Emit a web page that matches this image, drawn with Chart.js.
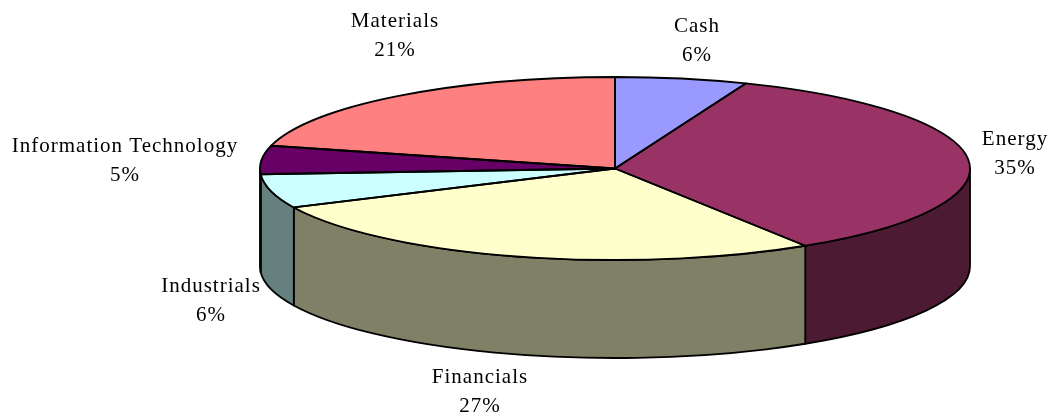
<!DOCTYPE html>
<html>
<head>
<meta charset="utf-8">
<script src="https://cdn.jsdelivr.net/npm/chart.js@4/dist/chart.umd.min.js"></script>
<style>
  body { margin: 0; background: #fff; }
  #wrap { width: 1050px; height: 417px; }
</style>
</head>
<body>
<div id="wrap"><canvas id="myChart" width="1050" height="417"></canvas></div>
<script>
// sectors, clockwise from 12 o'clock
const sectors = ['Cash', 'Energy', 'Financials', 'Industrials', 'Information Technology', 'Materials'];
const shares = [6, 35, 27, 6, 5, 21];
const topColors = ['#9999FF', '#993366', '#FFFFCC', '#CCFFFF', '#660066', '#FF8080'];
const sideColors = ['#4D4D80', '#4D1A33', '#808066', '#668080', '#330033', '#804040'];

// where each label's first line sits (center x, baseline y)
const labelSpots = [[697, 32], [1015, 145], [480, 383], [211, 292], [125, 152], [395, 27]];

function ellipseOf(chart, depth) {
    const a = chart.chartArea;
    const rx = (a.right - a.left) / 2;
    const ry = (a.bottom - a.top - depth) / 2;
    return { cx: a.left + rx, cy: a.top + ry, rx: rx, ry: ry };
}

const pie3d = {
    id: 'pie3d',
    beforeDatasetsDraw(chart, args, opts) {
        const ctx = chart.ctx;
        const e = ellipseOf(chart, opts.depth);
        const arcs = chart.getDatasetMeta(0).data;
        ctx.save();
        ctx.lineWidth = 1.8;
        ctx.lineJoin = 'round';
        ctx.strokeStyle = '#000';
        // side walls, only the front half is visible
        arcs.forEach((el, i) => {
            const s = Math.max(el.startAngle, 0);
            const t = Math.min(el.endAngle, Math.PI);
            if (t <= s) return;
            ctx.beginPath();
            ctx.ellipse(e.cx, e.cy, e.rx, e.ry, 0, s, t);
            ctx.lineTo(e.cx + e.rx * Math.cos(t), e.cy + opts.depth + e.ry * Math.sin(t));
            ctx.ellipse(e.cx, e.cy + opts.depth, e.rx, e.ry, 0, t, s, true);
            ctx.closePath();
            ctx.fillStyle = sideColors[i];
            ctx.fill();
            ctx.stroke();
        });
        ctx.restore();

        // squash the library's round pie onto the top ellipse
        const el = arcs[0];
        ctx.save();
        ctx.translate(e.cx, e.cy);
        ctx.scale(e.rx / el.outerRadius, e.ry / el.outerRadius);
        ctx.translate(-el.x, -el.y);
    },
    afterDatasetsDraw(chart, args, opts) {
        const ctx = chart.ctx;
        ctx.restore();
        const e = ellipseOf(chart, opts.depth);
        ctx.save();
        ctx.lineWidth = 1.8;
        ctx.lineJoin = 'round';
        ctx.strokeStyle = '#000';
        chart.getDatasetMeta(0).data.forEach((el) => {
            ctx.beginPath();
            ctx.moveTo(e.cx, e.cy);
            ctx.ellipse(e.cx, e.cy, e.rx, e.ry, 0, el.startAngle, el.endAngle);
            ctx.closePath();
            ctx.stroke();
        });
        ctx.restore();
    },
    afterDraw(chart, args, opts) {
        const ctx = chart.ctx;
        const data = chart.data.datasets[0].data;
        ctx.save();
        ctx.font = '21px "Liberation Serif", "Times New Roman", serif';
        ctx.letterSpacing = '1px';
        ctx.fillStyle = '#000';
        ctx.textAlign = 'center';
        ctx.textBaseline = 'alphabetic';
        chart.data.labels.forEach((name, i) => {
            const [x, y] = labelSpots[i];
            ctx.fillText(name, x, y);
            ctx.fillText(data[i] + '%', x, y + 29);
        });
        ctx.restore();
    }
};

const ctx = document.getElementById('myChart').getContext('2d');
const myChart = new Chart(ctx, {
    type: 'pie',
    data: {
        labels: sectors,
        datasets: [{
            data: shares,
            backgroundColor: topColors,
            borderWidth: 0,
            clip: false
        }]
    },
    options: {
        responsive: false,
        animation: false,
        events: [],
        layout: {
            padding: { left: 260, right: 80, top: 77, bottom: 59 }
        },
        plugins: {
            legend: { display: false },
            tooltip: { enabled: false },
            pie3d: { depth: 98 }
        }
    },
    plugins: [pie3d]
});
</script>
</body>
</html>
